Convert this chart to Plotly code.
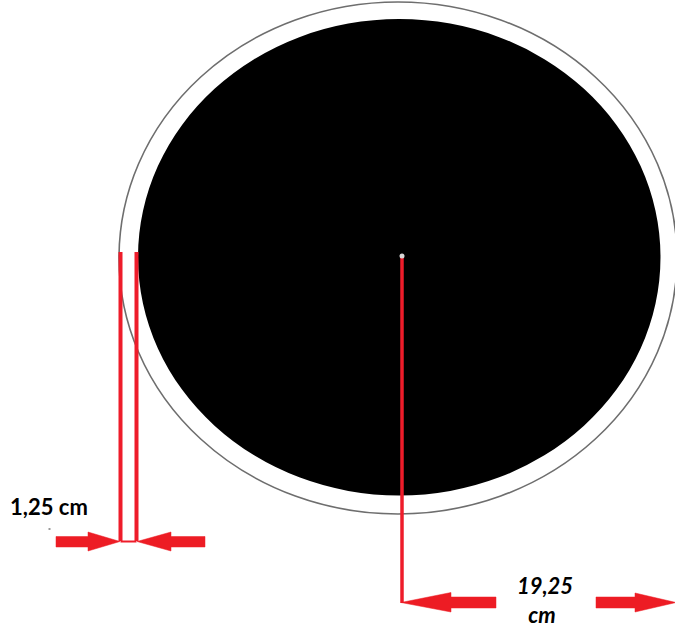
import plotly.graph_objects as go

# Diagram geometry (x, y in image pixels)
outer_ring_x = [119, 677]
outer_ring_y = [2, 514]
inner_disc_x = [138, 660.5]
inner_disc_y = [19, 495.5]

left_line_x = [120.5, 120.5]
left_line_y = [252, 541]
right_line_x = [136.5, 136.5]
right_line_y = [252, 541]
joint_line_x = [120.5, 136.5]
joint_line_y = [541.5, 541.5]
radius_line_x = [402, 402]
radius_line_y = [258, 603]
hub_x = [402]
hub_y = [256]
speck_x = [49.5]
speck_y = [529]

arrow_a_x = [56, 88, 88, 120, 88, 88, 56, 56]
arrow_a_y = [536.5, 536.5, 532, 541.5, 551, 547, 547, 536.5]
arrow_b_x = [205, 171, 171, 137, 171, 171, 205, 205]
arrow_b_y = [536.5, 536.5, 532, 541.5, 551, 547, 547, 536.5]
arrow_c_x = [496, 451, 451, 401, 451, 451, 496, 496]
arrow_c_y = [597, 597, 592.5, 602.5, 612, 608, 608, 597]
arrow_d_x = [596, 635, 635, 676, 635, 635, 596, 596]
arrow_d_y = [597, 597, 593, 602.5, 612, 608, 608, 597]

label_small = "1,25 cm"
label_small_x = [49]
label_small_y = [509]
label_big = ["19,25", "cm"]
label_big_x = [545, 542]
label_big_y = [588, 617]

RED = "#ed1c24"
LINE_RED = "#ee1c2a"

fig = go.Figure()


def line(x, y, w):
    fig.add_trace(go.Scatter(x=x, y=y, mode="lines", line=dict(color=LINE_RED, width=w),
                             hoverinfo="skip", showlegend=False))


def arrow(x, y):
    fig.add_trace(go.Scatter(x=x, y=y, mode="lines", fill="toself", fillcolor=RED,
                             line=dict(color=RED, width=0.5),
                             hoverinfo="skip", showlegend=False))


line(left_line_x, left_line_y, 4)
line(right_line_x, right_line_y, 4)
line(joint_line_x, joint_line_y, 2)
line(radius_line_x, radius_line_y, 3.5)
arrow(arrow_a_x, arrow_a_y)
arrow(arrow_b_x, arrow_b_y)
arrow(arrow_c_x, arrow_c_y)
arrow(arrow_d_x, arrow_d_y)

fig.add_trace(go.Scatter(x=hub_x, y=hub_y, mode="markers",
                         marker=dict(color="#d8d8d8", size=5), hoverinfo="skip", showlegend=False))
fig.add_trace(go.Scatter(x=speck_x, y=speck_y, mode="markers",
                         marker=dict(color="#9a9a9a", symbol="square", size=2), hoverinfo="skip", showlegend=False))
fig.add_trace(go.Scatter(x=label_small_x, y=label_small_y, mode="text", text=[label_small],
                         textposition="middle center",
                         textfont=dict(family="Lato", size=22, color="#000000", weight="bold"),
                         hoverinfo="skip", showlegend=False))
fig.add_trace(go.Scatter(x=label_big_x, y=label_big_y, mode="text", text=label_big,
                         textposition="middle center",
                         textfont=dict(family="Lato", size=22, color="#000000", weight="bold", style="italic"),
                         hoverinfo="skip", showlegend=False))

fig.update_layout(
    width=675, height=632, margin=dict(l=0, r=0, t=0, b=0),
    paper_bgcolor="white", plot_bgcolor="white", showlegend=False,
    xaxis=dict(range=[0, 675], visible=False, fixedrange=True),
    yaxis=dict(range=[632, 0], visible=False, fixedrange=True),
    shapes=[
        dict(type="circle", xref="x", yref="y", layer="below",
             x0=outer_ring_x[0], x1=outer_ring_x[1], y0=outer_ring_y[0], y1=outer_ring_y[1],
             line=dict(color="#6e6e6e", width=1.6), fillcolor="white"),
        dict(type="circle", xref="x", yref="y", layer="below",
             x0=inner_disc_x[0], x1=inner_disc_x[1], y0=inner_disc_y[0], y1=inner_disc_y[1],
             line=dict(width=0), fillcolor="#000000"),
    ],
)

fig.write_html("out.html", config={"displayModeBar": False},
               post_script="document.body.style.margin='0';document.body.style.overflow='hidden';")
